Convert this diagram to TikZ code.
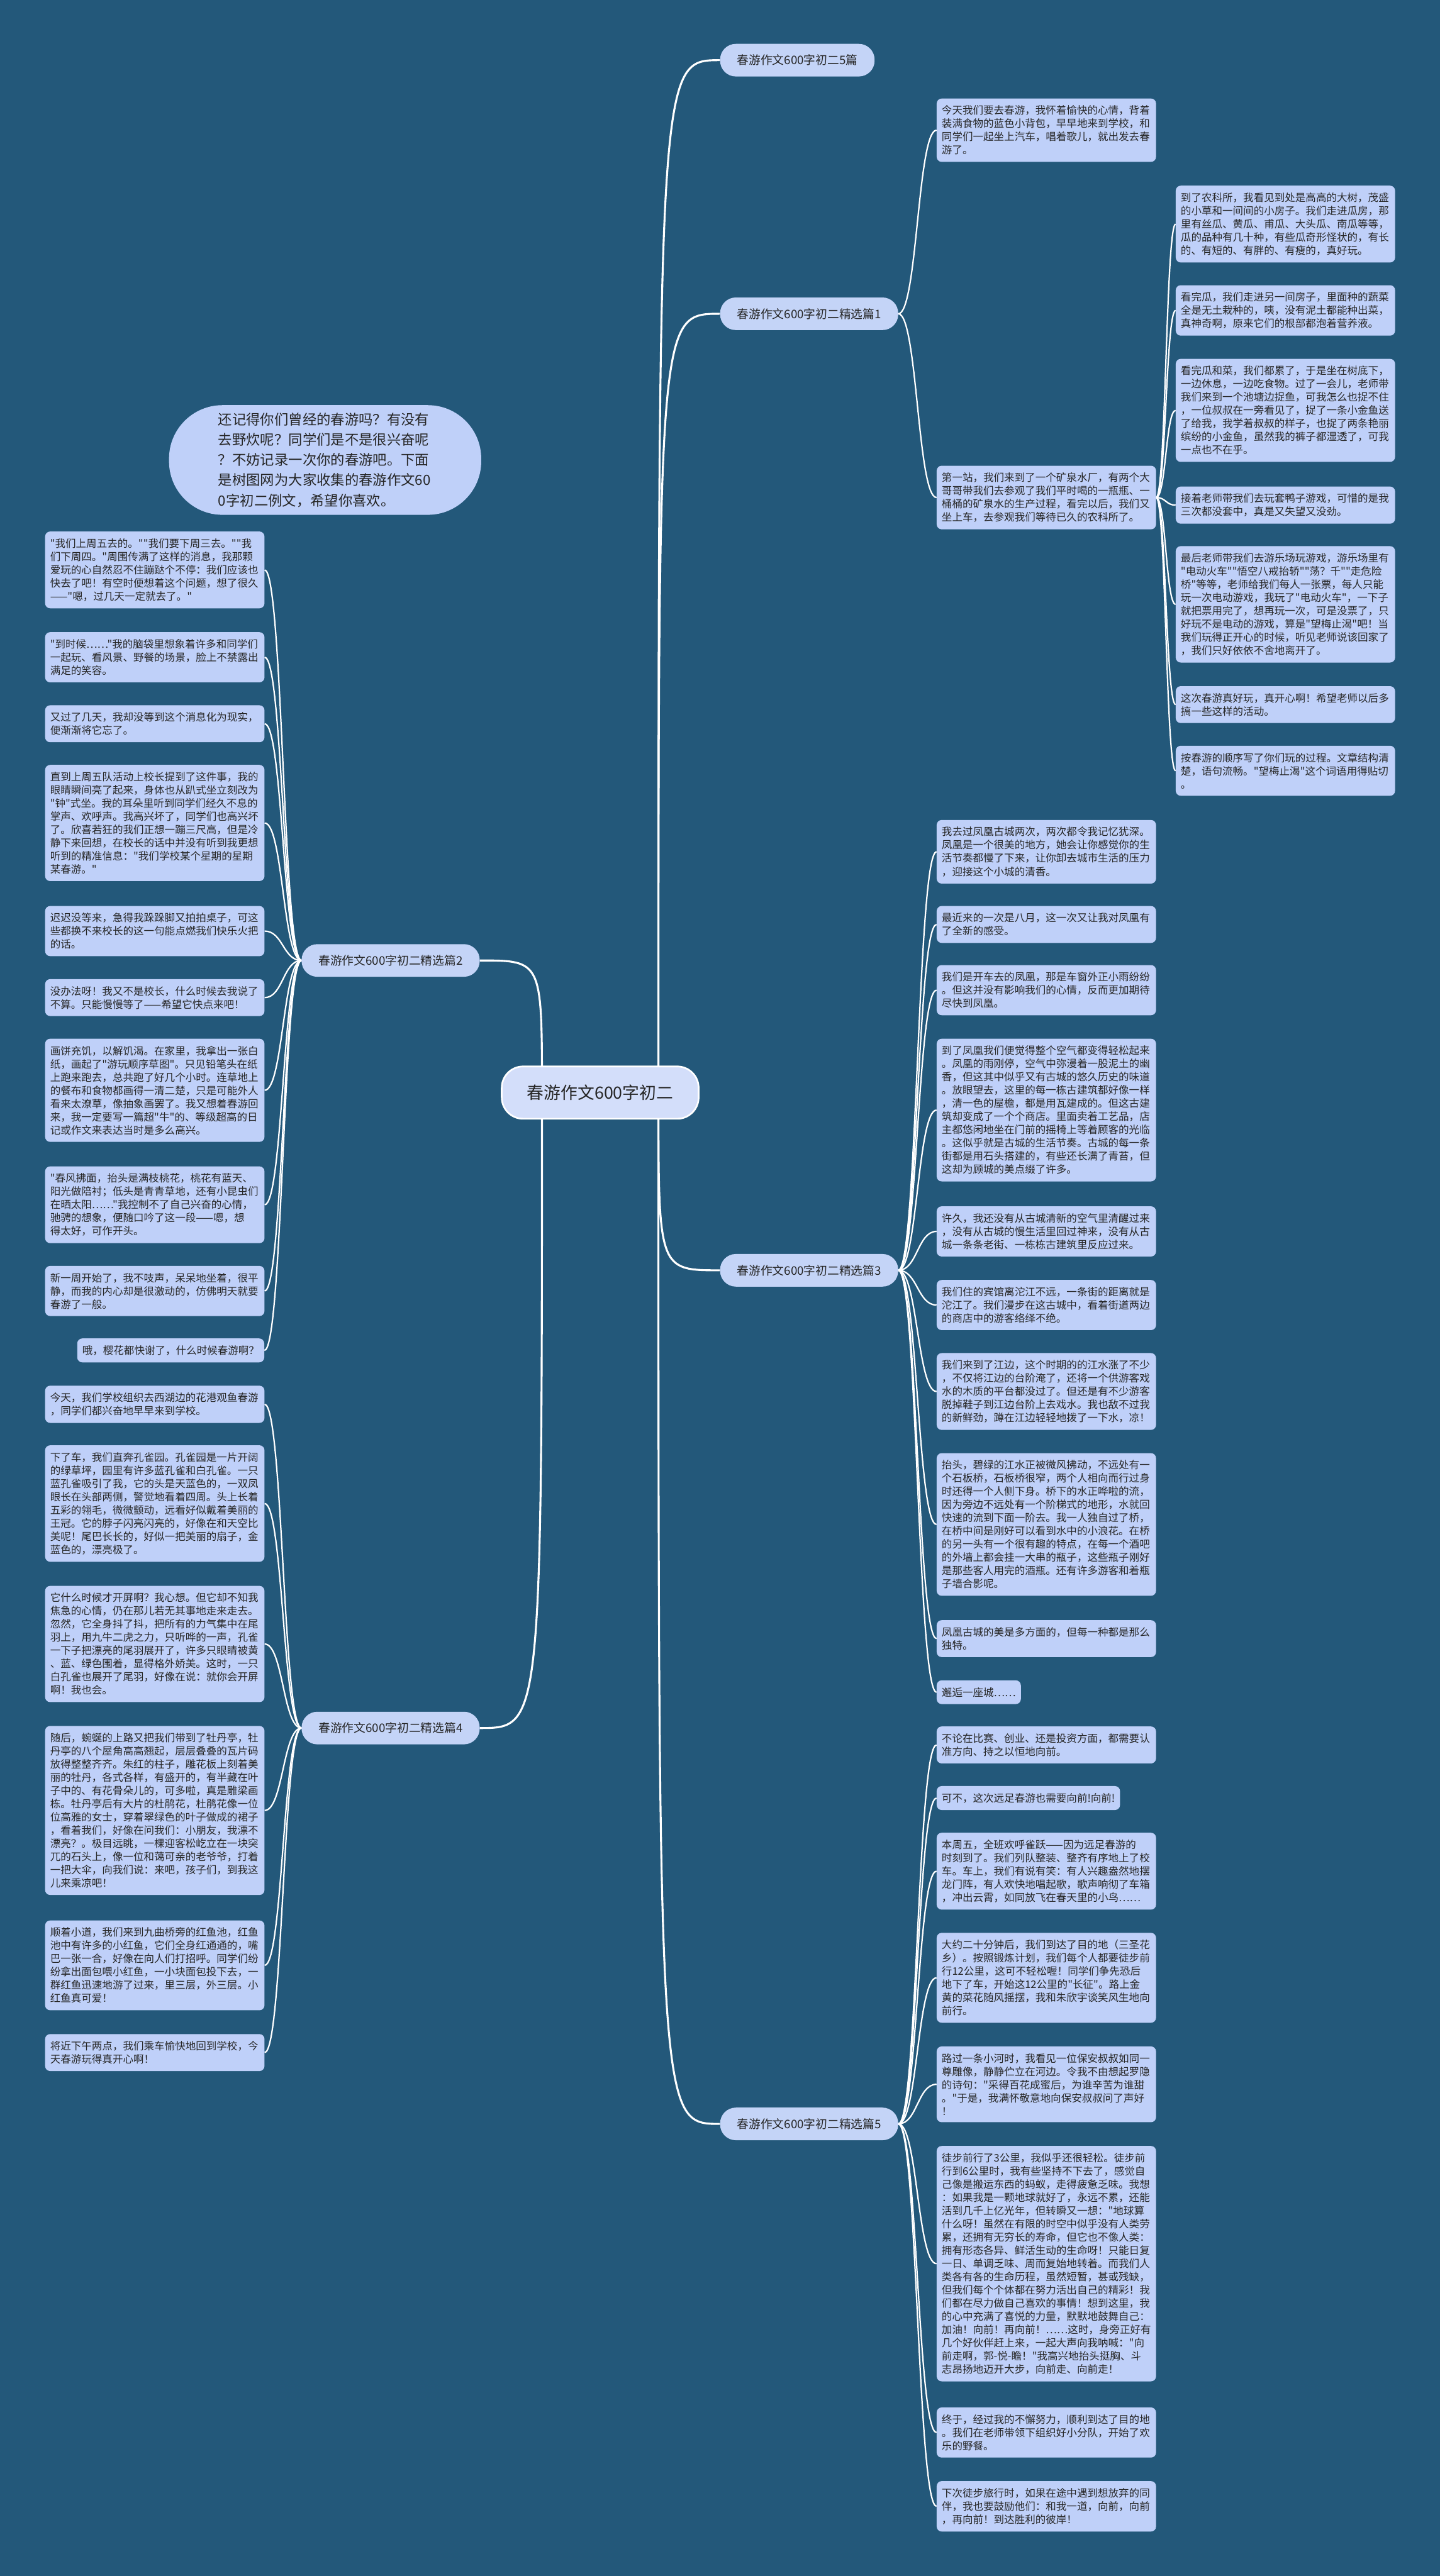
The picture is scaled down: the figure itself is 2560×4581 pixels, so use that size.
\documentclass[tikz,border=0pt]{standalone}
\usepackage{fontspec}
\setmainfont{Noto Sans CJK SC}[Ligatures=TeXOff]
\usetikzlibrary{calc}
\definecolor{bgc}{HTML}{23587A}
\definecolor{leafc}{HTML}{BFD0F9}
\definecolor{branchc}{HTML}{C4D4F7}
\definecolor{rootc}{HTML}{D3DEFA}
\definecolor{txtc}{HTML}{262626}
\pgfdeclarelayer{back}
\pgfdeclarelayer{lines}
\pgfsetlayers{back,lines,main}
\newcommand\linkR[2]{\draw[conn] (#1.east) .. controls ($(#1.east)!0.5!(#2.west |- #1.east)$) and ($(#2.west)!0.5!(#1.east |- #2.west)$) .. (#2.west);}
\newcommand\linkL[2]{\draw[conn] (#1.west) .. controls ($(#1.west)!0.5!(#2.east |- #1.west)$) and ($(#2.east)!0.5!(#1.west |- #2.east)$) .. (#2.east);}
\begin{document}
\begin{tikzpicture}[x=1pt,y=-1pt,
  conn/.style={draw=white,line width=2.5pt},
  rootconn/.style={draw=white,line width=3.5pt},
  leaf/.style={fill=leafc,text=txtc,rounded corners=9pt,text width=372pt,align=left,inner xsep=9pt,inner ysep=12.5pt,font=\fontsize{18.5}{23.5}\selectfont,anchor=north west},
  leafone/.style={fill=leafc,text=txtc,rounded corners=9pt,align=left,inner xsep=9pt,inner ysep=12.5pt,font=\fontsize{18.5}{23.5}\selectfont},
  branch/.style={fill=branchc,text=txtc,rounded corners=28pt,minimum height=58pt,inner xsep=30pt,inner ysep=0pt,font=\fontsize{21}{25}\selectfont},
  rootnode/.style={fill=rootc,draw=white,line width=3pt,text=txtc,rounded corners=38pt,minimum width=350pt,minimum height=93pt,font=\fontsize{30}{36}\selectfont},
  intronode/.style={fill=leafc,text=txtc,rounded corners=95pt,minimum width=555pt,minimum height=195pt,text width=380pt,align=left,font=\fontsize{25}{36}\selectfont}]
\begin{pgfonlayer}{back}
\fill[bgc] (0,0) rectangle (2560,4581);
\end{pgfonlayer}
\useasboundingbox (0,0) rectangle (2560,4581);

% root and intro
\node[rootnode] (r) at (1067,1943) {春游作文600字初二};
\node[intronode] (intro) at (578,818) {还记得你们曾经的春游吗？有没有\\去野炊呢？同学们是不是很兴奋呢\\？不妨记录一次你的春游吧。下面\\是树图网为大家收集的春游作文60\\0字初二例文，希望你喜欢。};
\coordinate (rR) at ($(r.east)+(-73,0)$);
\coordinate (rL) at ($(r.west)+(73,0)$);

% branches
\node[branch,anchor=west] (b5) at (1280,107) {春游作文600字初二5篇};
\node[branch,anchor=west] (b1) at (1280,558) {春游作文600字初二精选篇1};
\node[branch,anchor=west] (b3) at (1280,2259) {春游作文600字初二精选篇3};
\node[branch,anchor=west] (b5p) at (1280,3777) {春游作文600字初二精选篇5};
\node[branch,anchor=east] (b2) at (853,1708) {春游作文600字初二精选篇2};
\node[branch,anchor=east] (b4) at (853,3073) {春游作文600字初二精选篇4};

% branch 1
\node[leaf] (a1) at (1665,175) {今天我们要去春游，我怀着愉快的心情，背着\\装满食物的蓝色小背包，早早地来到学校，和\\同学们一起坐上汽车，唱着歌儿，就出发去春\\游了。};
\node[leaf] (a2) at (1665,828) {第一站，我们来到了一个矿泉水厂，有两个大\\哥哥带我们去参观了我们平时喝的一瓶瓶、一\\桶桶的矿泉水的生产过程，看完以后，我们又\\坐上车，去参观我们等待已久的农科所了。};
\node[leaf] (s1) at (2090,330) {到了农科所，我看见到处是高高的大树，茂盛\\的小草和一间间的小房子。我们走进瓜房，那\\里有丝瓜、黄瓜、甫瓜、大头瓜、南瓜等等，\\瓜的品种有几十种，有些瓜奇形怪状的，有长\\的、有短的、有胖的、有瘦的，真好玩。};
\node[leaf] (s2) at (2090,507) {看完瓜，我们走进另一间房子，里面种的蔬菜\\全是无土栽种的，咦，没有泥土都能种出菜，\\真神奇啊，原来它们的根部都泡着营养液。};
\node[leaf] (s3) at (2090,638) {看完瓜和菜，我们都累了，于是坐在树底下，\\一边休息，一边吃食物。过了一会儿，老师带\\我们来到一个池塘边捉鱼，可我怎么也捉不住\\，一位叔叔在一旁看见了，捉了一条小金鱼送\\了给我，我学着叔叔的样子，也捉了两条艳丽\\缤纷的小金鱼，虽然我的裤子都湿透了，可我\\一点也不在乎。};
\node[leaf] (s4) at (2090,865) {接着老师带我们去玩套鸭子游戏，可惜的是我\\三次都没套中，真是又失望又没劲。};
\node[leaf] (s5) at (2090,971) {最后老师带我们去游乐场玩游戏，游乐场里有\\"电动火车""悟空八戒抬轿""荡？千""走危险\\桥"等等，老师给我们每人一张票，每人只能\\玩一次电动游戏，我玩了"电动火车"，一下子\\就把票用完了，想再玩一次，可是没票了，只\\好玩不是电动的游戏，算是"望梅止渴"吧！当\\我们玩得正开心的时候，听见老师说该回家了\\，我们只好依依不舍地离开了。};
\node[leaf] (s6) at (2090,1220) {这次春游真好玩，真开心啊！希望老师以后多\\搞一些这样的活动。};
\node[leaf] (s7) at (2090,1326) {按春游的顺序写了你们玩的过程。文章结构清\\楚，语句流畅。"望梅止渴"这个词语用得贴切\\。};

% branch 2
\node[leaf] (l1) at (80,945) {"我们上周五去的。""我们要下周三去。""我\\们下周四。"周围传满了这样的消息，我那颗\\爱玩的心自然忍不住蹦跶个不停：我们应该也\\快去了吧！有空时便想着这个问题，想了很久\\——"嗯，过几天一定就去了。"};
\node[leaf] (l2) at (80,1124) {"到时候……"我的脑袋里想象着许多和同学们\\一起玩、看风景、野餐的场景，脸上不禁露出\\满足的笑容。};
\node[leaf] (l3) at (80,1254) {又过了几天，我却没等到这个消息化为现实，\\便渐渐将它忘了。};
\node[leaf] (l4) at (80,1360) {直到上周五队活动上校长提到了这件事，我的\\眼睛瞬间亮了起来，身体也从趴式坐立刻改为\\"钟"式坐。我的耳朵里听到同学们经久不息的\\掌声、欢呼声。我高兴坏了，同学们也高兴坏\\了。欣喜若狂的我们正想一蹦三尺高，但是冷\\静下来回想，在校长的话中并没有听到我更想\\听到的精准信息："我们学校某个星期的星期\\某春游。"};
\node[leaf] (l5) at (80,1611) {迟迟没等来，急得我跺跺脚又拍拍桌子，可这\\些都换不来校长的这一句能点燃我们快乐火把\\的话。};
\node[leaf] (l6) at (80,1741) {没办法呀！我又不是校长，什么时候去我说了\\不算。只能慢慢等了——希望它快点来吧！};
\node[leaf] (l7) at (80,1847) {画饼充饥，以解饥渴。在家里，我拿出一张白\\纸，画起了"游玩顺序草图"。只见铅笔头在纸\\上跑来跑去，总共跑了好几个小时。连草地上\\的餐布和食物都画得一清二楚，只是可能外人\\看来太潦草，像抽象画罢了。我又想着春游回\\来，我一定要写一篇超"牛"的、等级超高的日\\记或作文来表达当时是多么高兴。};
\node[leaf] (l8) at (80,2074) {"春风拂面，抬头是满枝桃花，桃花有蓝天、\\阳光做陪衬；低头是青青草地，还有小昆虫们\\在晒太阳……"我控制不了自己兴奋的心情，\\驰骋的想象，便随口吟了这一段——嗯，想\\得太好，可作开头。};
\node[leaf] (l9) at (80,2251) {新一周开始了，我不吱声，呆呆地坐着，很平\\静，而我的内心却是很激动的，仿佛明天就要\\春游了一般。};
\node[leafone,anchor=north east] (l10) at (470,2380) {哦，樱花都快谢了，什么时候春游啊？};

% branch 4
\node[leaf] (m1) at (80,2464) {今天，我们学校组织去西湖边的花港观鱼春游\\，同学们都兴奋地早早来到学校。};
\node[leaf] (m2) at (80,2570) {下了车，我们直奔孔雀园。孔雀园是一片开阔\\的绿草坪，园里有许多蓝孔雀和白孔雀。一只\\蓝孔雀吸引了我，它的头是天蓝色的，一双凤\\眼长在头部两侧，警觉地看着四周。头上长着\\五彩的翎毛，微微颤动，远看好似戴着美丽的\\王冠。它的脖子闪亮闪亮的，好像在和天空比\\美呢！尾巴长长的，好似一把美丽的扇子，金\\蓝色的，漂亮极了。};
\node[leaf] (m3) at (80,2820) {它什么时候才开屏啊？我心想。但它却不知我\\焦急的心情，仍在那儿若无其事地走来走去。\\忽然，它全身抖了抖，把所有的力气集中在尾\\羽上，用九牛二虎之力，只听哗的一声，孔雀\\一下子把漂亮的尾羽展开了，许多只眼睛被黄\\、蓝、绿色围着，显得格外娇美。这时，一只\\白孔雀也展开了尾羽，好像在说：就你会开屏\\啊！我也会。};
\node[leaf] (m4) at (80,3069) {随后，蜿蜒的上路又把我们带到了牡丹亭，牡\\丹亭的八个屋角高高翘起，层层叠叠的瓦片码\\放得整整齐齐。朱红的柱子，雕花板上刻着美\\丽的牡丹，各式各样，有盛开的，有半藏在叶\\子中的、有花骨朵儿的，可多啦，真是雕梁画\\栋。牡丹亭后有大片的杜鹃花，杜鹃花像一位\\位高雅的女士，穿着翠绿色的叶子做成的裙子\\，看着我们，好像在问我们：小朋友，我漂不\\漂亮？。极目远眺，一棵迎客松屹立在一块突\\兀的石头上，像一位和蔼可亲的老爷爷，打着\\一把大伞，向我们说：来吧，孩子们，到我这\\儿来乘凉吧！};
\node[leaf] (m5) at (80,3415) {顺着小道，我们来到九曲桥旁的红鱼池，红鱼\\池中有许多的小红鱼，它们全身红通通的，嘴\\巴一张一合，好像在向人们打招呼。同学们纷\\纷拿出面包喂小红鱼，一小块面包投下去，一\\群红鱼迅速地游了过来，里三层，外三层。小\\红鱼真可爱！};
\node[leaf] (m6) at (80,3617) {将近下午两点，我们乘车愉快地回到学校，今\\天春游玩得真开心啊！};

% branch 3
\node[leaf] (c1) at (1665,1458) {我去过凤凰古城两次，两次都令我记忆犹深。\\凤凰是一个很美的地方，她会让你感觉你的生\\活节奏都慢了下来，让你卸去城市生活的压力\\，迎接这个小城的清香。};
\node[leaf] (c2) at (1665,1611) {最近来的一次是八月，这一次又让我对凤凰有\\了全新的感受。};
\node[leaf] (c3) at (1665,1716) {我们是开车去的凤凰，那是车窗外正小雨纷纷\\。但这并没有影响我们的心情，反而更加期待\\尽快到凤凰。};
\node[leaf] (c4) at (1665,1847) {到了凤凰我们便觉得整个空气都变得轻松起来\\。凤凰的雨刚停，空气中弥漫着一股泥土的幽\\香，但这其中似乎又有古城的悠久历史的味道\\。放眼望去，这里的每一栋古建筑都好像一样\\，清一色的屋檐，都是用瓦建成的。但这古建\\筑却变成了一个个商店。里面卖着工艺品，店\\主都悠闲地坐在门前的摇椅上等着顾客的光临\\。这似乎就是古城的生活节奏。古城的每一条\\街都是用石头搭建的，有些还长满了青苔，但\\这却为顾城的美点缀了许多。};
\node[leaf] (c5) at (1665,2145) {许久，我还没有从古城清新的空气里清醒过来\\，没有从古城的慢生活里回过神来，没有从古\\城一条条老街、一栋栋古建筑里反应过来。};
\node[leaf] (c6) at (1665,2276) {我们住的宾馆离沱江不远，一条街的距离就是\\沱江了。我们漫步在这古城中，看着街道两边\\的商店中的游客络绎不绝。};
\node[leaf] (c7) at (1665,2406) {我们来到了江边，这个时期的的江水涨了不少\\，不仅将江边的台阶淹了，还将一个供游客戏\\水的木质的平台都没过了。但还是有不少游客\\脱掉鞋子到江边台阶上去戏水。我也敌不过我\\的新鲜劲，蹲在江边轻轻地拨了一下水，凉！};
\node[leaf] (c8) at (1665,2584) {抬头，碧绿的江水正被微风拂动，不远处有一\\个石板桥，石板桥很窄，两个人相向而行过身\\时还得一个人侧下身。桥下的水正哗啦的流，\\因为旁边不远处有一个阶梯式的地形，水就回\\快速的流到下面一阶去。我一人独自过了桥，\\在桥中间是刚好可以看到水中的小浪花。在桥\\的另一头有一个很有趣的特点，在每一个酒吧\\的外墙上都会挂一大串的瓶子，这些瓶子刚好\\是那些客人用完的酒瓶。还有许多游客和着瓶\\子墙合影呢。};
\node[leaf] (c9) at (1665,2881) {凤凰古城的美是多方面的，但每一种都是那么\\独特。};
\node[leafone,anchor=north west] (c10) at (1665,2988) {邂逅一座城……};

% branch 5
\node[leaf] (d1) at (1665,3070) {不论在比赛、创业、还是投资方面，都需要认\\准方向、持之以恒地向前。};
\node[leafone,anchor=north west] (d2) at (1665,3176) {可不，这次远足春游也需要向前!向前!};
\node[leaf] (d3) at (1665,3259) {本周五，全班欢呼雀跃——因为远足春游的\\时刻到了。我们列队整装、整齐有序地上了校\\车。车上，我们有说有笑：有人兴趣盎然地摆\\龙门阵，有人欢快地唱起歌，歌声响彻了车箱\\，冲出云霄，如同放飞在春天里的小鸟……};
\node[leaf] (d4) at (1665,3437) {大约二十分钟后，我们到达了目的地（三圣花\\乡）。按照锻炼计划，我们每个人都要徒步前\\行12公里，这可不轻松喔！同学们争先恐后\\地下了车，开始这12公里的"长征"。路上金\\黄的菜花随风摇摆，我和朱欣宇谈笑风生地向\\前行。};
\node[leaf] (d5) at (1665,3639) {路过一条小河时，我看见一位保安叔叔如同一\\尊雕像，静静伫立在河边。令我不由想起罗隐\\的诗句："采得百花成蜜后，为谁辛苦为谁甜\\。"于是，我满怀敬意地向保安叔叔问了声好\\！};
\node[leaf] (d6) at (1665,3816) {徒步前行了3公里，我似乎还很轻松。徒步前\\行到6公里时，我有些坚持不下去了，感觉自\\己像是搬运东西的蚂蚁，走得疲惫乏味。我想\\：如果我是一颗地球就好了，永远不累，还能\\活到几千上亿光年，但转瞬又一想："地球算\\什么呀！虽然在有限的时空中似乎没有人类劳\\累，还拥有无穷长的寿命，但它也不像人类：\\拥有形态各异、鲜活生动的生命呀！只能日复\\一日、单调乏味、周而复始地转着。而我们人\\类各有各的生命历程，虽然短暂，甚或残缺，\\但我们每个个体都在努力活出自己的精彩！我\\们都在尽力做自己喜欢的事情！想到这里，我\\的心中充满了喜悦的力量，默默地鼓舞自己：\\加油！向前！再向前！……这时，身旁正好有\\几个好伙伴赶上来，一起大声向我呐喊："向\\前走啊，郭-悦-瞻！"我高兴地抬头挺胸、斗\\志昂扬地迈开大步，向前走、向前走！};
\node[leaf] (d7) at (1665,4281) {终于，经过我的不懈努力，顺利到达了目的地\\。我们在老师带领下组织好小分队，开始了欢\\乐的野餐。};
\node[leaf] (d8) at (1665,4412) {下次徒步旅行时，如果在途中遇到想放弃的同\\伴，我也要鼓励他们：和我一道，向前，向前\\，再向前！到达胜利的彼岸！};

\begin{pgfonlayer}{lines}
\foreach \b in {b5,b1,b3,b5p} {\draw[rootconn] (rR) .. controls (rR |- \b.west) .. (\b.west);}
\foreach \b in {b2,b4} {\draw[rootconn] (rL) .. controls (rL |- \b.east) .. (\b.east);}
\foreach \n in {a1,a2} {\linkR{b1}{\n}}
\foreach \n in {s1,s2,s3,s4,s5,s6,s7} {\linkR{a2}{\n}}
\foreach \n in {c1,c2,c3,c4,c5,c6,c7,c8,c9,c10} {\linkR{b3}{\n}}
\foreach \n in {d1,d2,d3,d4,d5,d6,d7,d8} {\linkR{b5p}{\n}}
\foreach \n in {l1,l2,l3,l4,l5,l6,l7,l8,l9,l10} {\linkL{b2}{\n}}
\foreach \n in {m1,m2,m3,m4,m5,m6} {\linkL{b4}{\n}}
\end{pgfonlayer}
\end{tikzpicture}
\end{document}
